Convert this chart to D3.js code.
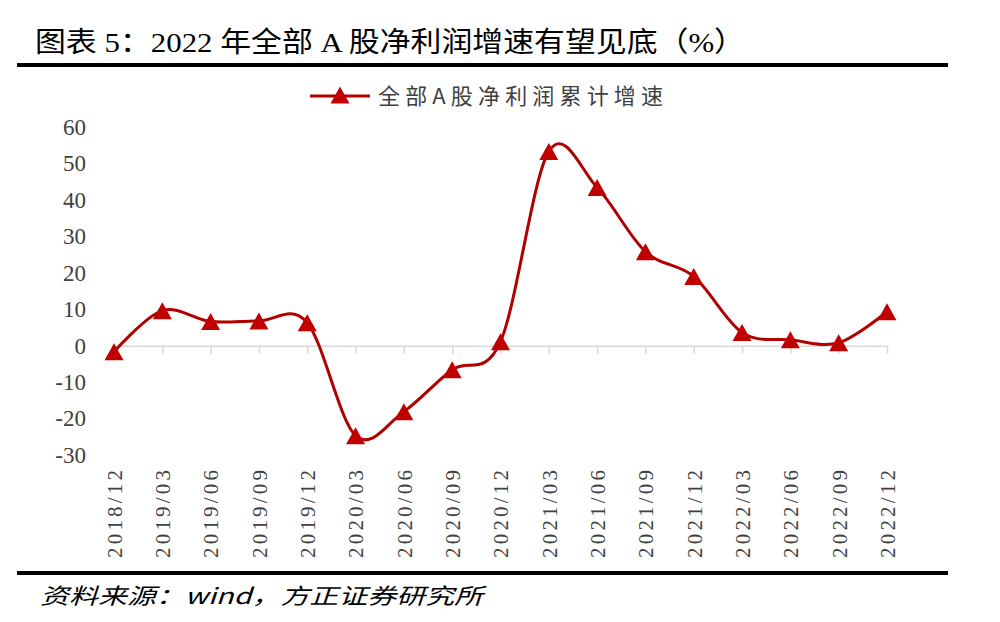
<!DOCTYPE html>
<html>
<head>
<meta charset="utf-8">
<script src="https://cdn.jsdelivr.net/npm/d3@7/dist/d3.min.js"></script>
<style>
html,body{margin:0;padding:0;background:#fff;}
svg{display:block;}
</style>
</head>
<body>
<svg id="chart" width="1000" height="622"></svg>
<script>
const categories = ["2018/12","2019/03","2019/06","2019/09","2019/12","2020/03","2020/06","2020/09","2020/12","2021/03","2021/06","2021/09","2021/12","2022/03","2022/06","2022/09","2022/12"];
const seriesValues = [-1.7, 9.6, 6.6, 6.8, 6.3, -24.7, -18.1, -6.6, 1.1, 53.3, 43.4, 25.8, 19.0, 3.6, 1.6, 0.8, 9.3];
const yTicks = [-30, -20, -10, 0, 10, 20, 30, 40, 50, 60];
const seriesName = "全部A股净利润累计增速";
const titleText = "图表 5：2022 年全部 A 股净利润增速有望见底（%）";
const sourceText = "资料来源：wind，方正证券研究所";

const svg = d3.select("#chart");
const serif = "'Liberation Serif','Times New Roman','Noto Sans CJK SC',serif";
const cjk = "'Liberation Serif','Noto Sans CJK SC',sans-serif";

// Title
svg.append("text").attr("x", 35).attr("y", 52)
  .attr("font-family", cjk).attr("font-size", 28).attr("fill", "#000")
  .attr("textLength", 710).attr("lengthAdjust", "spacingAndGlyphs")
  .text(titleText);
svg.append("line").attr("x1", 17).attr("x2", 948).attr("y1", 65).attr("y2", 65)
  .attr("stroke", "#000").attr("stroke-width", 4);

// Footer
svg.append("line").attr("x1", 17).attr("x2", 948).attr("y1", 573).attr("y2", 573)
  .attr("stroke", "#000").attr("stroke-width", 4);
svg.append("text").attr("x", 40).attr("y", 604)
  .attr("font-family", "'Noto Sans CJK SC',sans-serif").attr("font-style", "italic")
  .attr("font-size", 22).attr("fill", "#000")
  .attr("textLength", 443).attr("lengthAdjust", "spacingAndGlyphs")
  .text(sourceText);

const x = d3.scalePoint().domain(categories).range([114, 887]);
const y = d3.scaleLinear().domain([-30, 60]).range([455, 127]);

// Y axis labels
const yAxis = d3.axisLeft(y).tickValues(yTicks).tickSize(0).tickPadding(0).tickFormat(d => String(d));
const gy = svg.append("g").attr("transform", "translate(86,0)").call(yAxis);
gy.select(".domain").remove();
gy.selectAll("text").attr("font-family", serif).attr("font-size", 23).attr("fill", "#404040");

// X axis at zero
const xAxis = d3.axisBottom(x).tickSize(8).tickSizeOuter(0).tickFormat("");
const gx = svg.append("g").attr("transform", `translate(0,${y(0)})`).call(xAxis);
gx.select(".domain").attr("stroke", "#D9D9D9").attr("stroke-width", 1.5);
gx.selectAll(".tick line").attr("stroke", "#D9D9D9").attr("stroke-width", 1.5);

// X labels (rotated)
const xLab = d3.axisBottom(x).tickSize(0).tickPadding(0);
const gxl = svg.append("g").attr("transform", "translate(0,470)").call(xLab);
gxl.select(".domain").remove();
gxl.selectAll("text")
  .attr("font-family", serif).attr("font-size", 21).attr("fill", "#404040")
  .attr("transform", "rotate(-90)")
  .attr("text-anchor", "start").attr("dy", "0.35em").attr("x", -88).attr("y", 0)
  .attr("textLength", 88).attr("lengthAdjust", "spacing");

// Line
const line = d3.line().x((d, i) => x(categories[i])).y(d => y(d)).curve(d3.curveCardinal.tension(0));
svg.append("path").datum(seriesValues).attr("d", line)
  .attr("fill", "none").attr("stroke", "#B00000").attr("stroke-width", 3);

// Triangle marker (bounding-box centered)
const tri = { draw(ctx, size) { const w = 9.5, h = 8.5; ctx.moveTo(0, -h); ctx.lineTo(w, h); ctx.lineTo(-w, h); ctx.closePath(); } };
svg.append("g").selectAll("path").data(seriesValues).join("path")
  .attr("d", d3.symbol().type(tri)())
  .attr("transform", (d, i) => `translate(${x(categories[i])},${y(d)})`)
  .attr("fill", "#C00000");

// Legend
svg.append("line").attr("x1", 310).attr("x2", 370).attr("y1", 96).attr("y2", 96)
  .attr("stroke", "#B00000").attr("stroke-width", 3);
svg.append("path").attr("d", d3.symbol().type(tri)()).attr("transform", "translate(340,95)").attr("fill", "#C00000");
svg.append("text").attr("x", 378).attr("y", 104)
  .attr("font-family", "'Noto Sans CJK SC',sans-serif").attr("font-size", 22).attr("fill", "#404040")
  .attr("textLength", 285).attr("lengthAdjust", "spacing")
  .text(seriesName);
</script>
</body>
</html>
